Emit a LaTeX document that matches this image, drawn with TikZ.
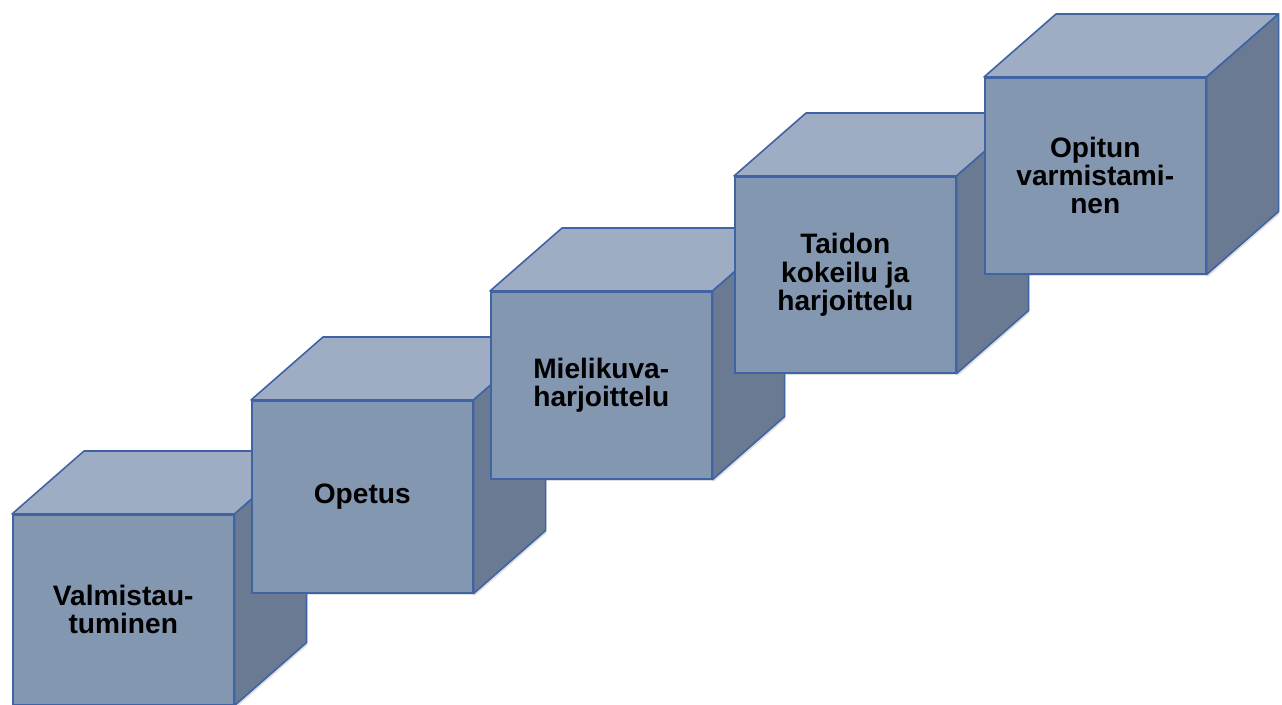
\documentclass[tikz,border=0pt]{standalone}
\usepackage{fontspec}
\setmainfont{Liberation Sans}
\usetikzlibrary{shadows}
\definecolor{cubefront}{HTML}{8497B0}
\definecolor{cubetop}{HTML}{9EADC4}
\definecolor{cubeside}{HTML}{6A7A92}
\definecolor{cubeline}{HTML}{3F63A3}
\tikzset{
  frontface/.style={draw=cubeline, fill=cubefront, line width=0.9pt, anchor=north west,
    minimum width=4.42cm, minimum height=3.8cm, inner sep=0pt, align=center,
    font=\bfseries\fontsize{16}{16}\selectfont,
    drop shadow={opacity=0.25, shadow xshift=0.5pt, shadow yshift=-1.5pt}},
  topface/.style={draw=cubeline, fill=cubetop, line width=0.9pt, line join=round},
  sideface/.style={draw=cubeline, fill=cubeside, line width=0.9pt, line join=round,
    drop shadow={opacity=0.25, shadow xshift=0.5pt, shadow yshift=-1.5pt}},
}
\begin{document}
\begin{tikzpicture}[x=0.02cm,y=-0.02cm]
\useasboundingbox (0,0) rectangle (1282,704);
%cube 1
\node[frontface] (valm) at (12,514) {Valmistau-\\tuminen};
\draw[topface] (valm.north west) -- ([shift={(72,-63)}]valm.north west) -- ([shift={(72,-63)}]valm.north east) -- (valm.north east) -- cycle;
\draw[sideface] (valm.north east) -- ([shift={(72,-63)}]valm.north east) -- ([shift={(72,-63)}]valm.south east) -- (valm.south east) -- cycle;
%cube 2
\node[frontface,minimum height=3.84cm] (opetus) at (251,400) {Opetus};
\draw[topface] (opetus.north west) -- ([shift={(72,-63)}]opetus.north west) -- ([shift={(72,-63)}]opetus.north east) -- (opetus.north east) -- cycle;
\draw[sideface] (opetus.north east) -- ([shift={(72,-63)}]opetus.north east) -- ([shift={(72,-63)}]opetus.south east) -- (opetus.south east) -- cycle;
%cube 3
\node[frontface,minimum height=3.74cm] (mieli) at (490,291) {Mielikuva-\\harjoittelu};
\draw[topface] (mieli.north west) -- ([shift={(72,-63)}]mieli.north west) -- ([shift={(72,-63)}]mieli.north east) -- (mieli.north east) -- cycle;
\draw[sideface] (mieli.north east) -- ([shift={(72,-63)}]mieli.north east) -- ([shift={(72,-63)}]mieli.south east) -- (mieli.south east) -- cycle;
%cube 4
\node[frontface,minimum height=3.92cm] (taidon) at (734,176) {Taidon\\kokeilu ja\\harjoittelu};
\draw[topface] (taidon.north west) -- ([shift={(72,-63)}]taidon.north west) -- ([shift={(72,-63)}]taidon.north east) -- (taidon.north east) -- cycle;
\draw[sideface] (taidon.north east) -- ([shift={(72,-63)}]taidon.north east) -- ([shift={(72,-63)}]taidon.south east) -- (taidon.south east) -- cycle;
%cube 5
\node[frontface,minimum height=3.92cm] (opitun) at (984,77) {Opitun\\varmistami-\\nen};
\draw[topface] (opitun.north west) -- ([shift={(72,-63)}]opitun.north west) -- ([shift={(72,-63)}]opitun.north east) -- (opitun.north east) -- cycle;
\draw[sideface] (opitun.north east) -- ([shift={(72,-63)}]opitun.north east) -- ([shift={(72,-63)}]opitun.south east) -- (opitun.south east) -- cycle;
\end{tikzpicture}
\end{document}
